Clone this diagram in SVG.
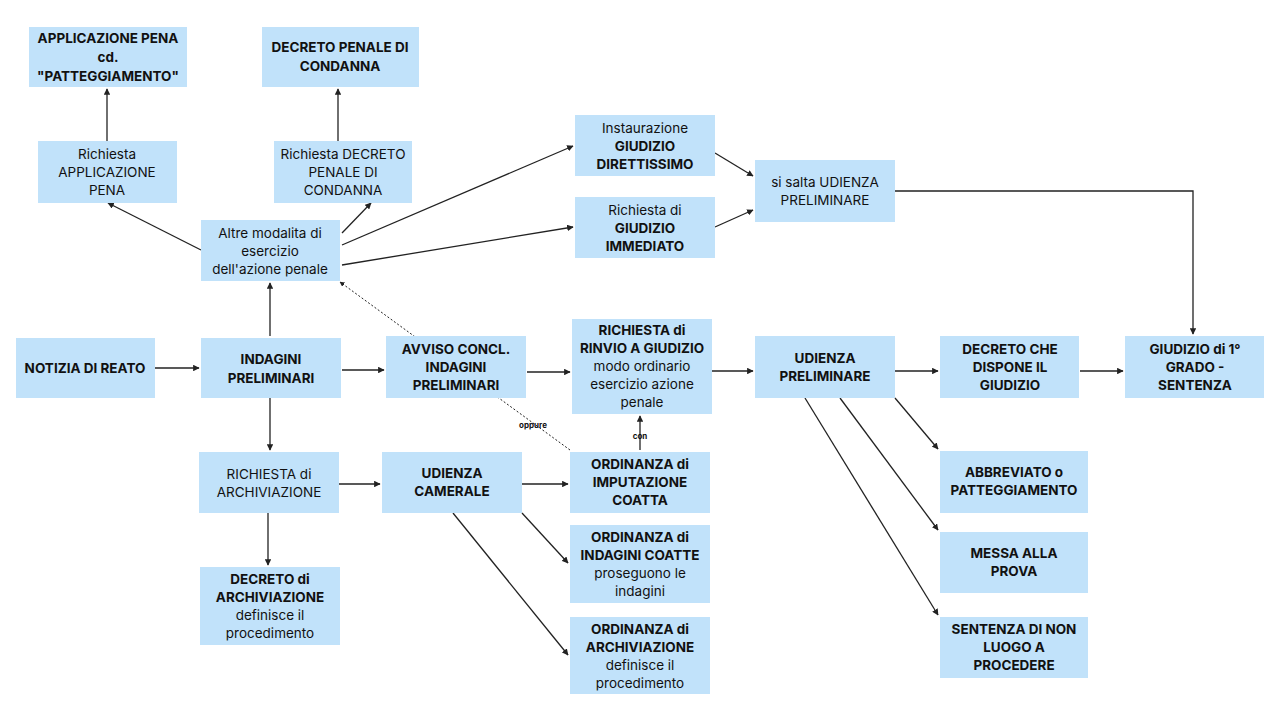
<svg xmlns="http://www.w3.org/2000/svg" width="1280" height="720" viewBox="0 0 1280 720">
<defs>
<marker id="a" viewBox="0 0 10 10" refX="9" refY="5" markerWidth="5" markerHeight="5" orient="auto"><path d="M0,0L10,5L0,10z" fill="#222"/></marker>
<style>
.n rect{fill:#c1e2fa}
text{font-family:Inter,"Liberation Sans",sans-serif;font-size:13.5px;fill:#111;text-anchor:middle}
.b{font-weight:bold}
.c line,.c path{stroke:#222;stroke-width:1.3;fill:none;marker-end:url(#a)}
.c .d{stroke-dasharray:2 2;stroke-width:1}
.s{font-size:8px;font-weight:bold}
</style>
</defs>
<rect width="1280" height="720" fill="#fff"/>
<g class="c">
<line x1="155" y1="368" x2="199" y2="368"/>
<line x1="342" y1="370" x2="384" y2="370"/>
<line x1="527" y1="372" x2="570" y2="372"/>
<line x1="712" y1="371" x2="753" y2="371"/>
<line x1="895" y1="371" x2="938" y2="371"/>
<line x1="1080" y1="371" x2="1123" y2="371"/>
<line x1="270" y1="336" x2="270" y2="283"/>
<line x1="270" y1="398" x2="270" y2="450"/>
<line x1="339" y1="484" x2="380" y2="484"/>
<line x1="522" y1="484" x2="568" y2="484"/>
<line x1="268" y1="513" x2="268" y2="565"/>
<line x1="522" y1="513" x2="568" y2="563"/>
<line x1="453" y1="513" x2="568" y2="655"/>
<line x1="640" y1="450" x2="640" y2="416"/>
<line class="d" x1="570" y1="450" x2="340" y2="282"/>
<line x1="201" y1="250" x2="108" y2="203"/>
<line x1="342" y1="233" x2="371" y2="203"/>
<line x1="107" y1="141" x2="107" y2="89"/>
<line x1="338" y1="141" x2="338" y2="89"/>
<line x1="342" y1="245" x2="573" y2="146"/>
<line x1="342" y1="265" x2="573" y2="227"/>
<line x1="715" y1="153" x2="753" y2="176"/>
<line x1="715" y1="227" x2="753" y2="210"/>
<path d="M895,191H1193V334"/>
<line x1="895" y1="398" x2="938" y2="449"/>
<line x1="840" y1="398" x2="938" y2="530"/>
<line x1="805" y1="398" x2="938" y2="615"/>
<text class="s" x="533" y="428">oppure</text>
<text class="s" x="640" y="439">con</text>
</g>
<g id="n1" class="n"><rect x="29" y="27" width="158" height="60"/><text class="b" x="108" y="43">APPLICAZIONE PENA</text><text class="b" x="108" y="62">cd.</text><text class="b" x="108" y="81">"PATTEGGIAMENTO"</text></g>
<g id="n2" class="n"><rect x="262" y="27" width="157" height="60"/><text class="b" x="340" y="52">DECRETO PENALE DI</text><text class="b" x="340" y="71">CONDANNA</text></g>
<g id="n3" class="n"><rect x="38" y="141" width="139" height="62"/><text x="107" y="159">Richiesta</text><text x="107" y="177">APPLICAZIONE</text><text x="107" y="195">PENA</text></g>
<g id="n4" class="n"><rect x="274" y="141" width="138" height="62"/><text x="343" y="159">Richiesta DECRETO</text><text x="343" y="177">PENALE DI</text><text x="343" y="195">CONDANNA</text></g>
<g id="n5" class="n"><rect x="201" y="220" width="139" height="61"/><text x="270" y="238">Altre modalita di</text><text x="270" y="256">esercizio</text><text x="270" y="274">dell'azione penale</text></g>
<g id="n6" class="n"><rect x="575" y="115" width="140" height="61"/><text x="645" y="133">Instaurazione</text><text class="b" x="645" y="151">GIUDIZIO</text><text class="b" x="645" y="169">DIRETTISSIMO</text></g>
<g id="n7" class="n"><rect x="575" y="197" width="140" height="61"/><text x="645" y="215">Richiesta di</text><text class="b" x="645" y="233">GIUDIZIO</text><text class="b" x="645" y="251">IMMEDIATO</text></g>
<g id="n8" class="n"><rect x="755" y="160" width="140" height="62"/><text x="825" y="187">si salta UDIENZA</text><text x="825" y="205">PRELIMINARE</text></g>
<g id="n9" class="n"><rect x="16" y="338" width="139" height="60"/><text class="b" x="85" y="373">NOTIZIA DI REATO</text></g>
<g id="n10" class="n"><rect x="201" y="338" width="140" height="60"/><text class="b" x="271" y="364">INDAGINI</text><text class="b" x="271" y="383">PRELIMINARI</text></g>
<g id="n11" class="n"><rect x="386" y="336" width="140" height="62"/><text class="b" x="456" y="354">AVVISO CONCL.</text><text class="b" x="456" y="372">INDAGINI</text><text class="b" x="456" y="390">PRELIMINARI</text></g>
<g id="n12" class="n"><rect x="572" y="319" width="140" height="95"/><text class="b" x="642" y="335">RICHIESTA di</text><text class="b" x="642" y="353">RINVIO A GIUDIZIO</text><text x="642" y="371">modo ordinario</text><text x="642" y="389">esercizio azione</text><text x="642" y="407">penale</text></g>
<g id="n13" class="n"><rect x="755" y="336" width="140" height="62"/><text class="b" x="825" y="363">UDIENZA</text><text class="b" x="825" y="381">PRELIMINARE</text></g>
<g id="n14" class="n"><rect x="940" y="336" width="139" height="62"/><text class="b" x="1010" y="354">DECRETO CHE</text><text class="b" x="1010" y="372">DISPONE IL</text><text class="b" x="1010" y="390">GIUDIZIO</text></g>
<g id="n15" class="n"><rect x="1125" y="336" width="139" height="62"/><text class="b" x="1195" y="354">GIUDIZIO di 1°</text><text class="b" x="1195" y="372">GRADO -</text><text class="b" x="1195" y="390">SENTENZA</text></g>
<g id="n16" class="n"><rect x="199" y="452" width="140" height="61"/><text x="269" y="479">RICHIESTA di</text><text x="269" y="497">ARCHIVIAZIONE</text></g>
<g id="n17" class="n"><rect x="382" y="452" width="140" height="61"/><text class="b" x="452" y="478">UDIENZA</text><text class="b" x="452" y="496">CAMERALE</text></g>
<g id="n18" class="n"><rect x="570" y="452" width="140" height="61"/><text class="b" x="640" y="469">ORDINANZA di</text><text class="b" x="640" y="487">IMPUTAZIONE</text><text class="b" x="640" y="505">COATTA</text></g>
<g id="n19" class="n"><rect x="200" y="567" width="140" height="78"/><text class="b" x="270" y="584">DECRETO di</text><text class="b" x="270" y="602">ARCHIVIAZIONE</text><text x="270" y="620">definisce il</text><text x="270" y="638">procedimento</text></g>
<g id="n20" class="n"><rect x="570" y="525" width="140" height="78"/><text class="b" x="640" y="542">ORDINANZA di</text><text class="b" x="640" y="560">INDAGINI COATTE</text><text x="640" y="578">proseguono le</text><text x="640" y="596">indagini</text></g>
<g id="n21" class="n"><rect x="570" y="617" width="140" height="77"/><text class="b" x="640" y="634">ORDINANZA di</text><text class="b" x="640" y="652">ARCHIVIAZIONE</text><text x="640" y="670">definisce il</text><text x="640" y="688">procedimento</text></g>
<g id="n22" class="n"><rect x="940" y="451" width="148" height="62"/><text class="b" x="1014" y="477">ABBREVIATO o</text><text class="b" x="1014" y="495">PATTEGGIAMENTO</text></g>
<g id="n23" class="n"><rect x="940" y="532" width="148" height="61"/><text class="b" x="1014" y="558">MESSA ALLA</text><text class="b" x="1014" y="576">PROVA</text></g>
<g id="n24" class="n"><rect x="940" y="617" width="148" height="61"/><text class="b" x="1014" y="634">SENTENZA DI NON</text><text class="b" x="1014" y="652">LUOGO A</text><text class="b" x="1014" y="670">PROCEDERE</text></g>
</svg>
